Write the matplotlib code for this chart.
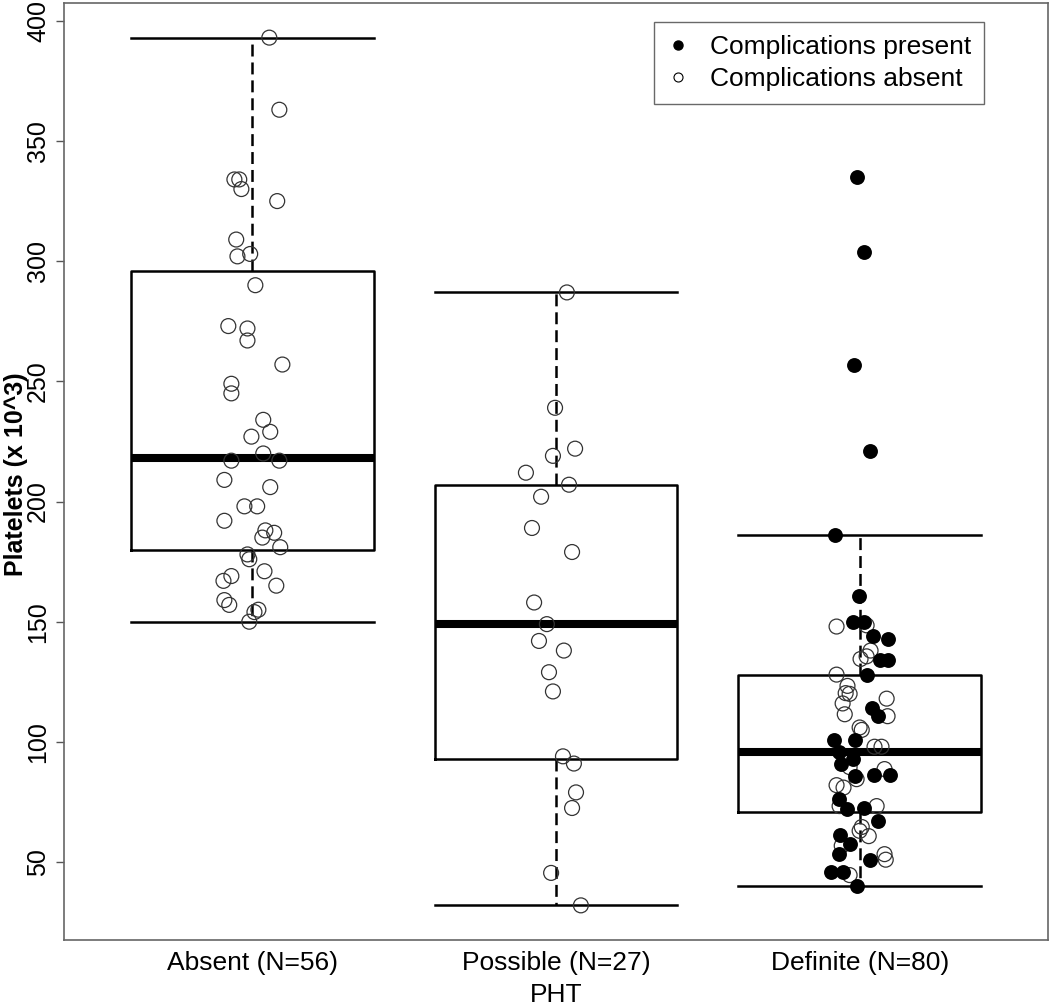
import matplotlib
matplotlib.use("Agg")
import matplotlib.pyplot as plt
from matplotlib.lines import Line2D

plt.rcParams["font.family"] = ["Liberation Sans", "DejaVu Sans"]
plt.rcParams["lines.scale_dashes"] = False

# group labels and box statistics
groups = ["Absent (N=56)", "Possible (N=27)", "Definite (N=80)"]
q1 = [180, 93, 71]
median = [218, 149, 96]
q3 = [296, 207, 128]
whisker_lo = [150, 32, 40]
whisker_hi = [393, 287, 186]

# jittered points: value and horizontal jitter (in group units)
absent_vals = [393, 363, 334, 334, 330, 325, 309, 302, 303, 290, 273, 272, 267,
               257, 249, 245, 234, 229, 227, 220, 217, 217, 209, 206, 198, 198,
               192, 188, 187, 185, 181, 178, 176, 171, 169, 167, 165, 159, 157,
               155, 154, 150]
absent_jit = [0.056, 0.089, -0.059, -0.043, -0.036, 0.082, -0.053, -0.049, -0.007,
              0.010, -0.079, -0.016, -0.016, 0.099, -0.069, -0.069, 0.036, 0.059,
              -0.003, 0.036, -0.069, 0.089, -0.092, 0.059, -0.026, 0.016, -0.092,
              0.043, 0.072, 0.033, 0.092, -0.016, -0.010, 0.040, -0.069, -0.095,
              0.079, -0.092, -0.076, 0.020, 0.007, -0.010]

possible_vals = [287, 239, 222, 219, 212, 207, 202, 189, 179, 158, 149, 142, 138,
                 129, 121, 94, 91, 79, 72.5, 45.5, 32]
possible_jit = [0.036, -0.003, 0.063, -0.010, -0.099, 0.043, -0.049, -0.079, 0.053,
                -0.072, -0.030, -0.056, 0.026, -0.023, -0.010, 0.023, 0.059, 0.066,
                0.053, -0.016, 0.082]

definite_vals = [335, 304, 257, 221, 186, 160.6, 150, 150, 148, 148.5, 144, 143,
                 138, 135.6, 134.5, 134, 134, 128, 128, 123.3, 120.3, 120, 116, 118,
                 111.5, 114, 110.7, 110.7, 106, 105, 101, 101, 98, 98, 96, 92.9, 91,
                 89.5, 88.7, 86, 86.2, 86.2, 84.5, 82, 81, 76.2, 73.3, 72, 72.5, 73.3,
                 67, 64.6, 63, 60.8, 61.3, 57.5, 56.8, 53.3, 53.3, 51, 51, 46, 46,
                 44.6, 40]
definite_jit = [-0.010, 0.013, -0.020, 0.033, -0.082, -0.003, -0.023, 0.016, -0.076,
                0.023, 0.043, 0.092, 0.036, 0.023, 0.003, 0.066, 0.092, -0.076, 0.023,
                -0.040, -0.046, -0.033, -0.056, 0.089, -0.049, 0.040, 0.059, 0.092,
                0.0, 0.007, -0.086, -0.016, 0.049, 0.072, -0.069, -0.023, -0.063,
                -0.033, 0.082, -0.016, 0.046, 0.099, -0.010, -0.076, -0.053, -0.069,
                -0.066, -0.040, 0.016, 0.056, 0.059, 0.007, 0.0, 0.030, -0.066,
                -0.033, -0.059, -0.069, 0.082, 0.086, 0.033, -0.095, -0.056, -0.033,
                -0.010]
# 1 = complications present (filled), 0 = absent (open)
definite_comp = [1, 1, 1, 1, 1, 1, 1, 1, 0, 0, 1, 1, 0, 0, 0, 1, 1, 0, 1, 0, 0, 0, 0,
                 0, 0, 1, 1, 0, 0, 0, 1, 1, 0, 0, 1, 1, 1, 0, 0, 1, 1, 1, 0, 0, 0, 1,
                 0, 1, 1, 0, 1, 0, 0, 0, 1, 1, 0, 1, 0, 0, 1, 1, 1, 0, 1]

fig = plt.figure(figsize=(10.5, 10.05), dpi=100)
ax = fig.add_axes([0.061, 0.0647, 0.937, 0.9323])

stats = []
for i in range(3):
    stats.append({"q1": q1[i], "med": median[i], "q3": q3[i],
                  "whislo": whisker_lo[i], "whishi": whisker_hi[i], "fliers": []})

ax.bxp(stats, positions=[1, 2, 3], widths=0.8, capwidths=0.8, showfliers=False,
       boxprops=dict(color="black", linewidth=1.8),
       medianprops=dict(color="black", linewidth=5.8, solid_capstyle="butt"),
       whiskerprops=dict(color="black", linewidth=1.8, linestyle=(0, (8.6, 4.3))),
       capprops=dict(color="black", linewidth=1.8))

marker_size = 115
open_style = dict(s=marker_size, facecolors="none", edgecolors="#333333", linewidths=0.9, zorder=3)
filled_style = dict(s=marker_size, color="black", linewidths=0, zorder=4)

ax.scatter([1 + j for j in absent_jit], absent_vals, **open_style)
ax.scatter([2 + j for j in possible_jit], possible_vals, **open_style)

def_open_x = [3 + j for j, c in zip(definite_jit, definite_comp) if c == 0]
def_open_y = [v for v, c in zip(definite_vals, definite_comp) if c == 0]
def_fill_x = [3 + j for j, c in zip(definite_jit, definite_comp) if c == 1]
def_fill_y = [v for v, c in zip(definite_vals, definite_comp) if c == 1]
ax.scatter(def_open_x, def_open_y, **open_style)
ax.scatter(def_fill_x, def_fill_y, **filled_style)

ax.set_xlim(0.38, 3.62)
ax.set_ylim(17.6, 407.4)
ax.set_xticks([1, 2, 3])
ax.set_xticklabels(groups, fontsize=19)
ax.tick_params(axis="x", length=0, pad=8)
ax.set_yticks([50, 100, 150, 200, 250, 300, 350, 400])
ax.set_yticklabels(["50", "100", "150", "200", "250", "300", "350", "400"],
                   rotation=90, va="center", fontsize=18)
ax.tick_params(axis="y", length=6, width=1, color="#555555", pad=4)
for side in ax.spines.values():
    side.set_color("#666666")
    side.set_linewidth(1.2)

fig.text(0.5295, 0.003, "PHT", ha="center", va="baseline", fontsize=19)
fig.text(0.015, 0.528, "Platelets (x 10^3)", rotation=90, ha="center", va="center",
         fontsize=18, fontweight="bold")

handles = [
    Line2D([], [], marker="o", linestyle="none", markersize=6.5, color="black"),
    Line2D([], [], marker="o", linestyle="none", markersize=6.5,
           markerfacecolor="none", markeredgecolor="black", markeredgewidth=0.8),
]
leg = ax.legend(handles, ["Complications present", "Complications absent"],
                loc="upper right", bbox_to_anchor=(0.935, 0.980), borderaxespad=0,
                fontsize=19, frameon=True, fancybox=False, handlelength=0.8,
                handletextpad=0.8, labelspacing=0.3, borderpad=0.5)
leg.get_frame().set_edgecolor("#444444")
leg.get_frame().set_linewidth(1.0)

fig.savefig("out.png", dpi=100)
